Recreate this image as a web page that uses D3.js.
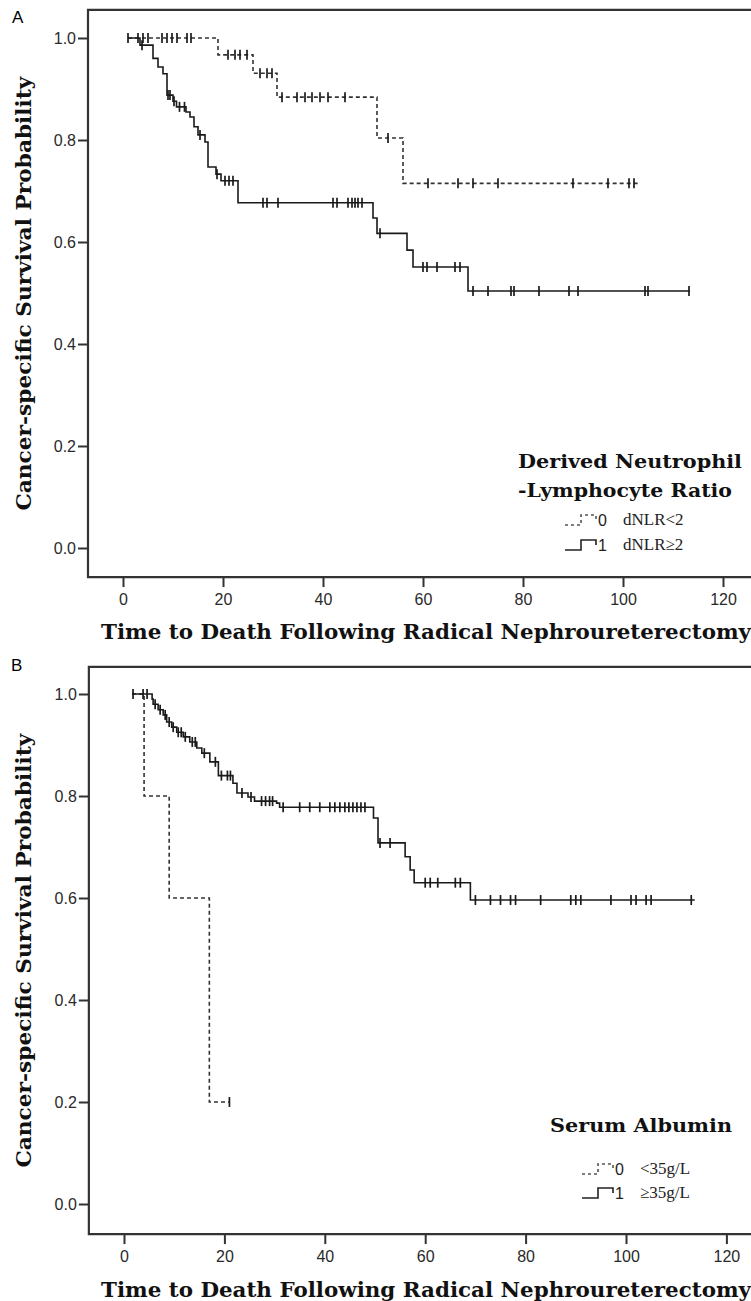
<html>
  <head>
    <script src="https://cdnjs.cloudflare.com/ajax/libs/d3/7.8.5/d3.min.js"></script>
    <style>
      body { margin: 0; background: #fff; }
      .axis path { display: none; }
      .title { font-family: 'DejaVu Serif', serif; font-weight: bold; fill: #111; }
      .leg { font-family: 'Liberation Serif', serif; font-size: 17px; fill: #222; }
      .legnum { font-family: 'Liberation Sans', sans-serif; font-size: 16px; fill: #222; }
    </style>
  </head>
  <body>
    <svg id="chart"></svg>
    <script>
      // ---- data ----
      const xTicks = [0, 20, 40, 60, 80, 100, 120];
      const yTicks = [0, 0.2, 0.4, 0.6, 0.8, 1.0];

      // Panel A, group 0: dNLR<2 (dashed)
      const aLowRange = [1, 103];
      const aLowTimes = [19, 26, 30.8, 50.8, 56];
      const aLowSurv = [0.967, 0.931, 0.884, 0.804, 0.715];
      const aLowCensor = [1, 3, 4, 5, 7.8, 8.8, 9.8, 10.8, 12.8, 13.6, 21, 22.4, 23.4, 24.8,
        27.4, 28.8, 29.8, 31.8, 34.8, 36.4, 37.8, 39.4, 41, 44.4, 53, 61, 67, 70, 75, 90, 97, 101.2, 102.2];

      // Panel A, group 1: dNLR>=2 (solid)
      const aHighRange = [1, 113.4];
      const aHighTimes = [3.4, 6, 7, 8, 8.8, 10, 10.7, 12.6, 13.4, 14.2, 15, 16.4, 17, 18.6, 19.6, 23,
        50, 50.8, 56.8, 58, 69];
      const aHighSurv = [0.986, 0.96, 0.943, 0.93, 0.888, 0.876, 0.865, 0.855, 0.845, 0.826, 0.81, 0.796,
        0.747, 0.733, 0.72, 0.677, 0.647, 0.617, 0.584, 0.551, 0.504];
      const aHighCensor = [3.8, 9, 9.4, 10.2, 11.3, 12.3, 15.4, 18.8, 20.4, 21.2, 22, 28, 28.8, 31,
        42, 42.8, 45, 45.8, 46.4, 47, 47.8, 51.4, 60, 60.8, 62.8, 66.4, 67.4, 70, 73, 77.6, 78.2, 83.2,
        89.2, 91, 104.4, 105, 113.2];

      // Panel B, group 0: <35g/L (dashed)
      const bLowRange = [1.6, 21];
      const bLowTimes = [4, 9, 17];
      const bLowSurv = [0.8, 0.6, 0.2];
      const bLowCensor = [21];

      // Panel B, group 1: >=35g/L (solid)
      const bHighRange = [1.6, 113.7];
      const bHighTimes = [5.6, 5.8, 6.8, 7.8, 8.5, 9.5, 10.5, 11.8, 13.1, 14.5, 15.5, 17.1, 18.8, 21.7,
        22.5, 24.7, 26, 30.4, 31, 49.7, 50.6, 56, 57, 57.8, 69];
      const bHighSurv = [0.99, 0.98, 0.969, 0.959, 0.945, 0.935, 0.925, 0.916, 0.906, 0.894, 0.884, 0.867,
        0.84, 0.825, 0.806, 0.798, 0.79, 0.786, 0.778, 0.757, 0.708, 0.681, 0.655, 0.63, 0.596];
      const bHighCensor = [1.8, 3.8, 4.6, 6.2, 7.2, 8.2, 9, 9.8, 10.8, 11.4, 12.2, 13.6, 14.2, 16, 18.2,
        19.4, 20.6, 21.2, 23.5, 25.3, 27.4, 28.2, 29, 29.6, 31.7, 35, 37, 39, 41, 42, 43, 44, 44.8, 45.6,
        46.4, 47.2, 48, 51, 53, 60, 61, 62.5, 66, 67, 70, 73, 75, 77, 78, 83, 89, 90, 91, 97, 101, 102,
        104, 105, 113];

      const xTitle = 'Time to Death Following Radical Nephroureterectomy';
      const yTitle = 'Cancer-specific Survival Probability';

      const svg = d3.select('#chart').attr('width', 751).attr('height', 1301);

      function survAt(times, surv, t) {
        let s = 1;
        times.forEach((e, i) => { if (e <= t) s = surv[i]; });
        return s;
      }

      function drawCurve(g, x, y, range, times, surv, censor, dashed) {
        const pts = [[range[0], 1]];
        times.forEach((t, i) => pts.push([t, surv[i]]));
        pts.push([range[1], surv[surv.length - 1]]);

        const line = d3.line()
          .x(d => x(d[0]))
          .y(d => y(d[1]))
          .curve(d3.curveStepAfter);

        g.append('path')
          .attr('d', line(pts))
          .attr('fill', 'none')
          .attr('stroke', dashed ? '#333' : '#1a1a1a')
          .attr('stroke-width', 1.6)
          .attr('stroke-dasharray', dashed ? '4,3' : null);

        g.append('g').selectAll('line')
          .data(censor)
          .enter().append('line')
          .attr('x1', d => x(d))
          .attr('x2', d => x(d))
          .attr('y1', d => y(survAt(times, surv, d)) - 5)
          .attr('y2', d => y(survAt(times, surv, d)) + 5)
          .attr('stroke', '#1a1a1a')
          .attr('stroke-width', 1.7);
      }

      function legendSymbol(g, x0, yc, dashed) {
        g.append('path')
          .attr('d', `M${x0},${yc + 5} H${x0 + 16} V${yc - 5} H${x0 + 31} V${yc}`)
          .attr('fill', 'none')
          .attr('stroke', dashed ? '#555' : '#222')
          .attr('stroke-width', 1.6)
          .attr('stroke-dasharray', dashed ? '3,3' : null);
      }

      function styleAxis(sel) {
        sel.selectAll('.tick text')
          .style('font-family', 'Liberation Sans, Arial, sans-serif')
          .style('font-size', '16px')
          .style('fill', '#2a2a2a');
        sel.selectAll('.tick line')
          .style('stroke', '#333')
          .style('stroke-width', 2);
      }

      function drawPanel(p) {
        const x = d3.scaleLinear().domain([0, 120]).range([p.x0, p.x0 + 120 * p.xs]);
        const y = d3.scaleLinear().domain([0, 1]).range([p.y0, p.y1]);
        const g = svg.append('g');

        const left = x(-7), right = 753, top = y(p.yTop), bottom = y(p.yBottom);

        g.append('path')
          .attr('d', `M${right},${top} H${left} V${bottom} H${right}`)
          .attr('fill', 'none')
          .attr('stroke', '#333')
          .attr('stroke-width', 2.2);

        g.append('g')
          .attr('class', 'axis')
          .attr('transform', `translate(${left},0)`)
          .call(d3.axisLeft(y).tickValues(yTicks).tickSize(10).tickPadding(2).tickFormat(d3.format('.1f')))
          .call(styleAxis);

        g.append('g')
          .attr('class', 'axis')
          .attr('transform', `translate(0,${bottom})`)
          .call(d3.axisBottom(x).tickValues(xTicks).tickSize(10).tickPadding(7))
          .call(styleAxis);

        g.append('text')
          .attr('x', p.labelX).attr('y', p.labelY)
          .style('font-family', 'Liberation Sans, sans-serif')
          .style('font-size', '17px')
          .text(p.label);

        g.append('text')
          .attr('class', 'title')
          .attr('x', 101).attr('y', p.xTitleY)
          .attr('textLength', 650).attr('lengthAdjust', 'spacingAndGlyphs')
          .style('font-size', '21px')
          .text(xTitle);

        g.append('text')
          .attr('class', 'title')
          .attr('transform', `translate(31,${(top + bottom) / 2}) rotate(-90)`)
          .attr('text-anchor', 'middle')
          .attr('textLength', 434).attr('lengthAdjust', 'spacingAndGlyphs')
          .style('font-size', '21px')
          .text(yTitle);

        drawCurve(g, x, y, p.low.range, p.low.times, p.low.surv, p.low.censor, true);
        drawCurve(g, x, y, p.high.range, p.high.times, p.high.surv, p.high.censor, false);

        // legend
        p.legTitle.forEach((t, i) => {
          g.append('text')
            .attr('class', 'title')
            .attr('x', p.legX).attr('y', p.legTitleY + i * 29)
            .attr('textLength', t.w).attr('lengthAdjust', 'spacingAndGlyphs')
            .style('font-size', '19px')
            .text(t.text);
        });
        p.legRows.forEach((r, i) => {
          const yc = p.legRowY[i];
          legendSymbol(g, p.symX, yc, i === 0);
          g.append('text').attr('class', 'legnum')
            .attr('x', p.symX + 33).attr('y', yc + 6).text(i);
          g.append('text').attr('class', 'leg')
            .attr('x', p.symX + 58).attr('y', yc + 5).text(r);
        });
      }

      drawPanel({
        x0: 123, xs: 5.0, y0: 548, y1: 38, yTop: 1.055, yBottom: -0.057,
        label: 'A', labelX: 12, labelY: 23, xTitleY: 639,
        low: { range: aLowRange, times: aLowTimes, surv: aLowSurv, censor: aLowCensor },
        high: { range: aHighRange, times: aHighTimes, surv: aHighSurv, censor: aHighCensor },
        legTitle: [{ text: 'Derived Neutrophil', w: 224 }, { text: '-Lymphocyte Ratio', w: 214 }],
        legX: 518, legTitleY: 468, symX: 565, legRowY: [520, 545],
        legRows: ['dNLR<2', 'dNLR\u22652']
      });

      drawPanel({
        x0: 124, xs: 5.02, y0: 1204, y1: 694, yTop: 1.053, yBottom: -0.059,
        label: 'B', labelX: 11, labelY: 671, xTitleY: 1297,
        low: { range: bLowRange, times: bLowTimes, surv: bLowSurv, censor: bLowCensor },
        high: { range: bHighRange, times: bHighTimes, surv: bHighSurv, censor: bHighCensor },
        legTitle: [{ text: 'Serum Albumin', w: 182 }],
        legX: 550, legTitleY: 1132, symX: 582, legRowY: [1169, 1193],
        legRows: ['<35g/L', '\u226535g/L']
      });
    </script>
  </body>
</html>
